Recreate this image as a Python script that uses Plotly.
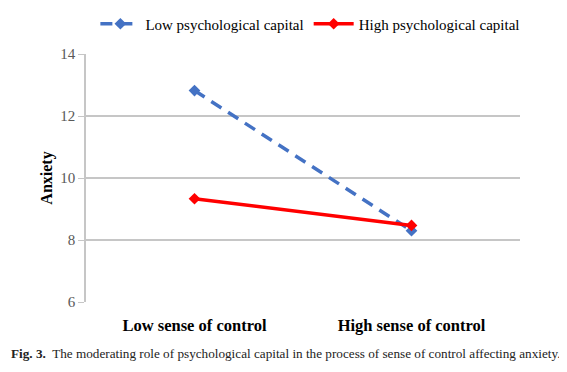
import plotly.graph_objects as go

categories = ["Low sense of control", "High sense of control"]
low_capital = [12.82, 8.30]
high_capital = [9.33, 8.47]
y_ticks = [6, 8, 10, 12, 14]

fig = go.Figure()
fig.add_trace(go.Scatter(
    x=categories, y=low_capital, mode="lines+markers",
    name="Low psychological capital",
    line=dict(color="#4472C4", width=3.5, dash="12px,8px"),
    marker=dict(symbol="diamond", size=9, color="#4472C4"),
))
fig.add_trace(go.Scatter(
    x=categories, y=high_capital, mode="lines+markers",
    name="High psychological capital",
    line=dict(color="#FF0000", width=3.5),
    marker=dict(symbol="diamond", size=9, color="#FF0000"),
))

fig.update_layout(
    width=567, height=372,
    margin=dict(l=78, r=55, t=46, b=78, autoexpand=False),
    paper_bgcolor="white", plot_bgcolor="white",
    font=dict(family="Liberation Serif", color="#000000"),
    showlegend=True,
    legend=dict(orientation="h", x=0.517, xanchor="center", y=1 + (46 - 16) / 248,
                yanchor="middle", font=dict(size=15, color="#000000"),
                itemwidth=40, tracegroupgap=0),
    annotations=[dict(
        text="<b>Fig. 3.</b>  The moderating role of psychological capital in the process of sense of control affecting anxiety.",
        xref="paper", yref="paper", x=-0.178, y=-0.206, xanchor="left", yanchor="middle",
        showarrow=False, font=dict(family="Liberation Serif", size=13.2, color="#222222"),
    )],
)

fig.update_xaxes(
    type="category", range=[-0.5, 1.5], showgrid=False, showline=False, zeroline=False,
    ticks="", ticklabelstandoff=11,
    tickfont=dict(size=16.5, family="Liberation Serif", color="#000000"),
    tickprefix="<b>", ticksuffix="</b>",
)
fig.update_yaxes(
    range=[6, 14], tickvals=y_ticks, showgrid=True, gridcolor="#C6C6C6", gridwidth=1.5,
    showline=True, linecolor="#C6C6C6", linewidth=1.5, ticks="outside", ticklen=6,
    tickcolor="#C6C6C6", zeroline=False,
    tickfont=dict(size=15, color="#595959", family="Liberation Serif"),
    title=dict(text="<b>Anxiety</b>", font=dict(size=16, color="#000000"), standoff=4),
)

fig.write_html("out.html")
